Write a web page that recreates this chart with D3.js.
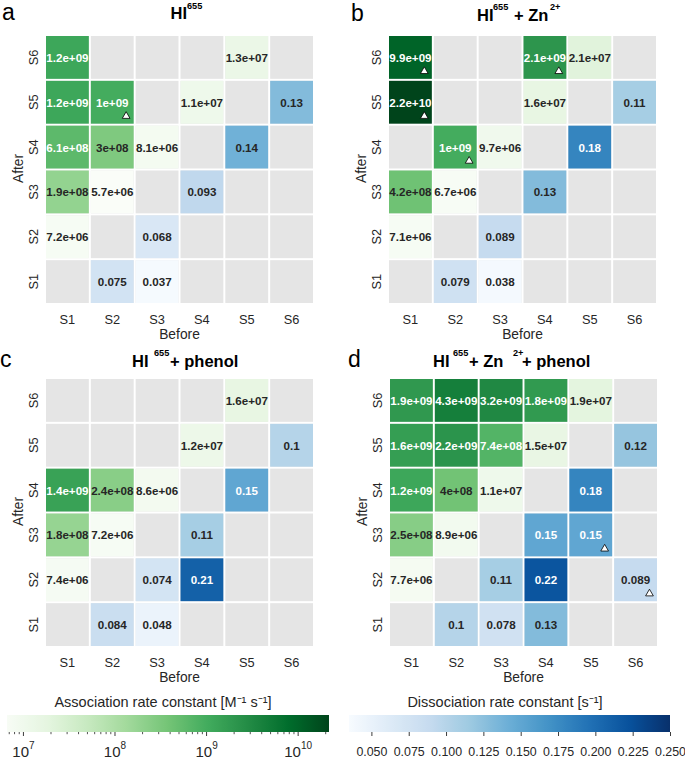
<!DOCTYPE html>
<html><head><meta charset="utf-8">
<script src="https://cdn.jsdelivr.net/npm/d3@7"></script>
<style>
html,body{margin:0;padding:0;background:#fff;}
svg{display:block;font-family:"Liberation Sans",Arial,Helvetica,sans-serif;}
</style></head><body>
<svg id="chart" width="685" height="761"></svg>
<script>
// ---------------- DATA ----------------
const states = ["S1","S2","S3","S4","S5","S6"];
// entries: [before, after, value]
const assocA = [["S1","S6",1.2e9],["S5","S6",1.3e7],["S1","S5",1.2e9],["S2","S5",1e9],["S4","S5",1.1e7],
  ["S1","S4",6.1e8],["S2","S4",3e8],["S3","S4",8.1e6],["S1","S3",1.9e8],["S2","S3",5.7e6],["S1","S2",7.2e6]];
const dissocA = [["S6","S5",0.13],["S5","S4",0.14],["S4","S3",0.093],["S3","S2",0.068],["S2","S1",0.075],["S3","S1",0.037]];
const flagsA = [["S2","S5"]];

const assocB = [["S1","S6",9.9e9],["S4","S6",2.1e9],["S5","S6",2.1e7],["S1","S5",2.2e10],["S4","S5",1.6e7],
  ["S2","S4",1e9],["S3","S4",9.7e6],["S1","S3",4.2e8],["S2","S3",6.7e6],["S1","S2",7.1e6]];
const dissocB = [["S6","S5",0.11],["S5","S4",0.18],["S4","S3",0.13],["S3","S2",0.089],["S2","S1",0.079],["S3","S1",0.038]];
const flagsB = [["S1","S6"],["S4","S6"],["S1","S5"],["S2","S4"]];

const assocC = [["S5","S6",1.6e7],["S4","S5",1.2e7],["S1","S4",1.4e9],["S2","S4",2.4e8],["S3","S4",8.6e6],
  ["S1","S3",1.8e8],["S2","S3",7.2e6],["S1","S2",7.4e6]];
const dissocC = [["S6","S5",0.1],["S5","S4",0.15],["S4","S3",0.11],["S3","S2",0.074],["S4","S2",0.21],["S2","S1",0.084],["S3","S1",0.048]];
const flagsC = [];

const assocD = [["S1","S6",1.9e9],["S2","S6",4.3e9],["S3","S6",3.2e9],["S4","S6",1.8e9],["S5","S6",1.9e7],
  ["S1","S5",1.6e9],["S2","S5",2.2e9],["S3","S5",7.4e8],["S4","S5",1.5e7],
  ["S1","S4",1.2e9],["S2","S4",4e8],["S3","S4",1.1e7],["S1","S3",2.5e8],["S2","S3",8.9e6],["S1","S2",7.7e6]];
const dissocD = [["S6","S5",0.12],["S5","S4",0.18],["S4","S3",0.15],["S5","S3",0.15],["S3","S2",0.11],["S4","S2",0.22],
  ["S6","S2",0.089],["S2","S1",0.1],["S3","S1",0.078],["S4","S1",0.13]];
const flagsD = [["S5","S3"],["S6","S2"]];

const assocDomain = [6.7e6, 2.2e10];
const dissocDomain = [0.035, 0.25];
const assocMajorTicks = [1e7, 1e8, 1e9, 1e10];
const dissocTicks = [0.05, 0.075, 0.1, 0.125, 0.15, 0.175, 0.2, 0.225, 0.25];
const assocLabel = "Association rate constant [M\u207B\u00B9 s\u207B\u00B9]";
const dissocLabel = "Dissociation rate constant [s\u207B\u00B9]";

// ---------------- SETUP ----------------
const greensCols = ["#f7fcf5","#e5f5e0","#c7e9c0","#a1d99b","#74c476","#41ab5d","#238b45","#006d2c","#00441b"];
const bluesCols  = ["#f7fbff","#deebf7","#c6dbef","#9ecae1","#6baed6","#4292c6","#2171b5","#08519c","#08306b"];
const greenInterp = d3.piecewise(d3.interpolateRgb, greensCols);
const blueInterp = d3.piecewise(d3.interpolateRgb, bluesCols);
const greenColor = d3.scaleSequentialLog(greenInterp).domain(assocDomain);
const blueColor = d3.scaleSequential(blueInterp).domain(dissocDomain);

const TXT = "#262626";
const FONT = '"Liberation Sans",Arial,sans-serif';
const svg = d3.select("#chart");

function fmt2g(v){
  const e = +v.toExponential(1).split("e")[1];
  if (e >= 2 || e < -4) {
    let [m, ex] = v.toExponential(1).split("e");
    m = m.replace(/\.0$/, "");
    const n = +ex;
    return m + "e" + (n < 0 ? "-" : "+") + String(Math.abs(n)).padStart(2, "0");
  }
  let s = v.toPrecision(2);
  if (s.includes(".")) s = s.replace(/0+$/, "").replace(/\.$/, "");
  return s;
}
function lum(c){
  const rgb = d3.rgb(c);
  const f = x => { x /= 255; return x <= 0.03928 ? x/12.92 : Math.pow((x+0.055)/1.055, 2.4); };
  return 0.2126*f(rgb.r) + 0.7152*f(rgb.g) + 0.0722*f(rgb.b);
}

const panels = [
  {letter:"a", lx:2, ly:19.5, gx:45, gy:35, assoc:assocA, dissoc:dissocA, flags:flagsA,
   tb:19, title:[{t:"HI",x:170.5},{t:"655",x:187,sup:true}]},
  {letter:"b", lx:351, ly:20.5, gx:388, gy:35, assoc:assocB, dissoc:dissocB, flags:flagsB,
   tb:20.7, title:[{t:"HI",x:477},{t:"655",x:493,sup:true},{t:"+ Zn",x:514},{t:"2+",x:550,sup:true}]},
  {letter:"c", lx:0, ly:367, gx:45, gy:378, assoc:assocC, dissoc:dissocC, flags:flagsC,
   tb:366.7, title:[{t:"HI",x:132},{t:"655",x:154,sup:true},{t:"+ phenol",x:170}]},
  {letter:"d", lx:348, ly:367, gx:389, gy:378, assoc:assocD, dissoc:dissocD, flags:flagsD,
   tb:366.7, title:[{t:"HI",x:433},{t:"655",x:453,sup:true},{t:"+ Zn",x:469},{t:"2+",x:513,sup:true},{t:"+ phenol",x:522}]}
];
const G = 269;

panels.forEach(p => {
  const x = d3.scaleBand().domain(states).range([p.gx, p.gx + G]);
  const y = d3.scaleBand().domain(states.slice().reverse()).range([p.gy, p.gy + G]);
  const bw = x.bandwidth(), bh = y.bandwidth();
  const g = svg.append("g");

  const all = [];
  states.forEach(a => states.forEach(b => all.push([b, a])));
  g.selectAll("rect.bg").data(all).join("rect")
    .attr("x", d => x(d[0]) + 1).attr("y", d => y(d[1]) + 1)
    .attr("width", bw - 2).attr("height", bh - 2).attr("fill", "#e5e5e5");

  const cells = p.assoc.map(d => ({b:d[0], a:d[1], v:d[2], c:greenColor(d[2])}))
    .concat(p.dissoc.map(d => ({b:d[0], a:d[1], v:d[2], c:blueColor(d[2])})));

  g.selectAll("rect.cell").data(cells).join("rect")
    .attr("x", d => x(d.b) + 1).attr("y", d => y(d.a) + 1)
    .attr("width", bw - 2).attr("height", bh - 2).attr("fill", d => d.c);

  g.selectAll("text.val").data(cells).join("text")
    .attr("x", d => x(d.b) + bw/2).attr("y", d => y(d.a) + bh/2)
    .attr("text-anchor", "middle").attr("dominant-baseline", "central")
    .attr("font-size", 11.6).attr("font-weight", "bold")
    .attr("fill", d => lum(d.c) > 0.39 ? TXT : "#ffffff")
    .text(d => fmt2g(d.v));

  const tri = d3.symbol().type(d3.symbolTriangle).size(26);
  g.selectAll("path.tri").data(p.flags).join("path")
    .attr("d", tri)
    .attr("transform", d => `translate(${x(d[0]) + bw*0.81},${y(d[1]) + bh*0.81})`)
    .attr("fill", "#fff").attr("stroke", "#000").attr("stroke-width", 0.8);

  const xa = g.append("g").attr("transform", `translate(0,${p.gy + G})`)
    .call(d3.axisBottom(x).tickSize(0));
  xa.select(".domain").remove();
  xa.selectAll("text").attr("y", 19.5).attr("dy", 0).attr("font-size", 12.8)
    .attr("fill", TXT).attr("font-family", FONT);

  g.selectAll("text.ytick").data(states).join("text")
    .attr("transform", d => `translate(${p.gx - 7},${y(d) + bh/2}) rotate(-90)`)
    .attr("text-anchor", "middle").attr("font-size", 12.8).attr("fill", TXT)
    .text(d => d);

  g.append("text").attr("x", p.gx + G/2).attr("y", p.gy + G + 35)
    .attr("text-anchor", "middle").attr("font-size", 13.8).attr("fill", TXT).text("Before");
  g.append("text").attr("transform", `translate(${p.gx - 22},${p.gy + G/2 - 1}) rotate(-90)`)
    .attr("text-anchor", "middle").attr("font-size", 13.8).attr("fill", TXT).text("After");

  g.append("text").attr("x", p.lx).attr("y", p.ly).attr("font-size", 23).attr("fill", "#000").text(p.letter);

  const tt = g.append("text").attr("font-weight", "bold").attr("fill", "#000");
  p.title.forEach(part => {
    tt.append("tspan").attr("x", part.x).attr("y", part.sup ? p.tb - 10.5 : p.tb)
      .attr("font-size", part.sup ? 9.2 : 16.5).text(part.t);
  });
});

// ---------------- COLORBARS ----------------
const defs = svg.append("defs");
function colorbar(id, scaleX, colorFn, x0, x1) {
  const grad = defs.append("linearGradient").attr("id", id)
    .attr("x1", "0%").attr("x2", "100%").attr("y1", "0%").attr("y2", "0%");
  d3.range(0, 101).forEach(i => {
    const px = x0 + (x1 - x0) * i / 100;
    grad.append("stop").attr("offset", i + "%").attr("stop-color", colorFn(scaleX.invert(px)));
  });
  svg.append("rect").attr("x", x0).attr("y", 715).attr("width", x1 - x0).attr("height", 17)
    .attr("fill", `url(#${id})`);
}

const cbG = d3.scaleLog().domain(assocDomain).range([7, 329]);
colorbar("gGrad", cbG, greenColor, 7, 329);
const minorG = cbG.ticks().filter(t => !assocMajorTicks.includes(t));
const mg = svg.append("g").attr("transform", "translate(0,732)")
  .call(d3.axisBottom(cbG).tickValues(minorG).tickSize(2.2).tickFormat(""));
mg.select(".domain").remove();
mg.selectAll("line").attr("stroke", TXT).attr("stroke-width", 0.8);
const Mg = svg.append("g").attr("transform", "translate(0,732)")
  .call(d3.axisBottom(cbG).tickValues(assocMajorTicks).tickSize(4).tickFormat(""));
Mg.select(".domain").remove();
Mg.selectAll("line").attr("stroke", TXT).attr("stroke-width", 0.9);
Mg.selectAll(".tick").each(function(d) {
  const t = d3.select(this).append("text").attr("y", 24.5).attr("text-anchor", "middle")
    .attr("fill", TXT).attr("font-family", FONT);
  t.append("tspan").attr("font-size", 15).text("10");
  t.append("tspan").attr("font-size", 10).attr("dy", -8).text(Math.round(Math.log10(d)));
});
svg.append("text").attr("x", 163).attr("y", 707).attr("text-anchor", "middle")
  .attr("font-size", 14.5).attr("fill", TXT).text(assocLabel);

const cbB = d3.scaleLinear().domain(dissocDomain).range([349, 670]);
colorbar("bGrad", cbB, blueColor, 349, 670);
const bg = svg.append("g").attr("transform", "translate(0,732)")
  .call(d3.axisBottom(cbB).tickValues(dissocTicks).tickSize(4).tickFormat(d3.format(".3f")));
bg.select(".domain").remove();
bg.selectAll("line").attr("stroke", TXT).attr("stroke-width", 0.9);
bg.selectAll("text").attr("y", 24).attr("dy", 0).attr("font-size", 12.4).attr("fill", TXT)
  .attr("font-family", FONT);
svg.append("text").attr("x", 505).attr("y", 707).attr("text-anchor", "middle")
  .attr("font-size", 14.5).attr("fill", TXT).text(dissocLabel);
</script>
</body></html>
